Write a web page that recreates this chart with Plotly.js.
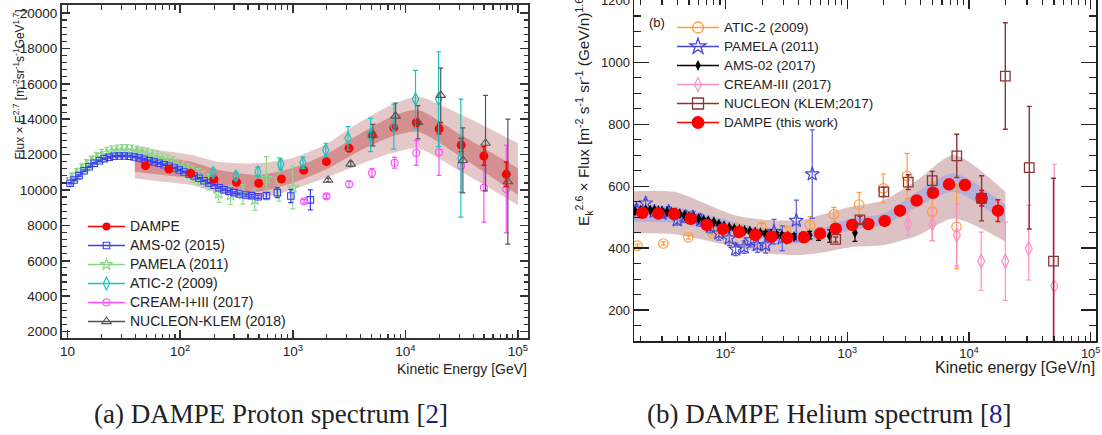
<!DOCTYPE html>
<html>
<head>
<meta charset="utf-8">
<script src="https://cdn.plot.ly/plotly-3.0.1.min.js"></script>
<style>
  html, body { margin: 0; padding: 0; background: #ffffff; }
  #chart { width: 1102px; height: 435px; }
</style>
</head>
<body>
<div id="chart"></div>
<script>
// ---------------- Panel (a): proton ----------------
const pDampeE   = [49.2, 79.2, 124, 199, 316, 498, 792, 1250, 1990, 3160, 5050, 7900, 12500, 19950, 31300, 49800, 78700];
const pDampeF   = [11375, 11187, 10943, 10605, 10435, 10380, 10620, 11110, 11600, 12355, 13110, 13520, 13800, 13450, 12540, 11920, 10885];
const pDampeErr = [40, 40, 40, 40, 40, 50, 60, 70, 80, 100, 120, 150, 200, 280, 380, 520, 690];

const pBandE    = [39.5, 63.7, 126, 217, 492, 974, 1920, 3800, 7500, 12900, 29500, 99800];
const pOuterHi  = [12447, 12260, 11977, 11600, 11510, 11790, 12540, 13770, 14800, 15270, 14330, 12640];
const pOuterLo  = [10660, 10500, 10280, 9850, 9530, 10000, 10660, 11410, 12070, 12355, 11130, 9150];
const pInnerHi  = [11977, 11850, 11600, 11150, 10850, 11226, 11977, 13110, 14140, 14520, 13200, 11226];
const pInnerLo  = [11034, 10880, 10660, 10200, 9906, 10380, 11130, 12165, 13010, 13290, 11977, 9718];

const pAmsE   = [10.5, 11.4, 12.6, 14.0, 15.5, 17.2, 19.1, 21.1, 23.4, 25.9, 28.7, 31.8, 35.2, 39, 43.2, 47.9, 53, 58.7, 65, 72, 79.8, 88.4, 97.9, 108, 120, 133, 147, 163, 180, 200, 221, 245, 271, 300, 333, 383, 430, 492, 583, 728, 961, 1432];
const pAmsF   = [10379, 10565, 10810, 11090, 11316, 11508, 11655, 11770, 11846, 11903, 11921, 11921, 11903, 11865, 11808, 11733, 11655, 11582, 11508, 11430, 11340, 11243, 11130, 11017, 10904, 10791, 10660, 10525, 10395, 10265, 10130, 10017, 9926, 9850, 9774, 9718, 9680, 9620, 9680, 9850, 9660, 9440];
const pAmsErr = [40, 40, 40, 40, 40, 40, 40, 40, 40, 40, 40, 40, 40, 40, 40, 40, 40, 40, 40, 40, 40, 40, 40, 40, 40, 40, 40, 40, 40, 40, 45, 45, 50, 50, 55, 60, 70, 90, 170, 280, 375, 565];

const pPamE   = [10.8, 11.9, 13.2, 14.6, 16.2, 18, 20, 22.2, 24.6, 27.3, 30.3, 33.6, 37.3, 41.4, 46, 51, 56.6, 62.8, 69.7, 77.4, 86, 95.4, 106, 117, 130, 145, 160, 178, 220, 280, 360, 460, 583, 751, 1000];
const pPamF   = [10600, 10850, 11120, 11370, 11580, 11780, 11940, 12060, 12140, 12190, 12210, 12210, 12180, 12130, 12060, 11970, 11880, 11780, 11680, 11580, 11470, 11340, 11210, 11060, 10900, 10760, 10600, 10450, 9800, 9700, 9750, 9450, 10660, 10600, 10130];
const pPamErr = [350, 350, 350, 350, 350, 350, 350, 350, 350, 350, 350, 350, 350, 350, 350, 400, 400, 400, 400, 400, 400, 400, 400, 400, 450, 450, 450, 450, 500, 520, 550, 600, 1225, 1225, 1200];

const pAticE   = [196, 312, 490, 782, 1230, 1960, 3090, 4910, 7900, 12300, 19700, 31100];
const pAticF   = [10980, 10790, 11030, 11450, 11540, 12260, 12920, 13110, 13580, 15130, 15130, 11800];
const pAticErr = [200, 200, 250, 300, 320, 380, 660, 940, 1270, 1630, 2680, 3330];

const pCreamE   = [1260, 1990, 3160, 5050, 8020, 12500, 19900, 31300, 49800, 78700];
const pCreamF   = [9360, 9640, 10320, 10960, 11540, 12090, 12130, 11375, 10130, 10056];
const pCreamErr = [100, 120, 180, 250, 300, 700, 1300, 1500, 1950, 2480];

const pNucE   = [2060, 3270, 5150, 8180, 12900, 20600, 32400, 51500, 81300];
const pNucF   = [10560, 11470, 13100, 14180, 13825, 15350, 11670, 12650, 10470];
const pNucErr = [100, 150, 610, 735, 940, 1530, 1836, 2700, 3530];

const pXTickVals = [10, 100, 1000, 10000, 100000];
const pXTickText = ['10', '10<sup>2</sup>', '10<sup>3</sup>', '10<sup>4</sup>', '10<sup>5</sup>'];

// ---------------- Panel (b): helium ----------------
const hDampeE   = [20.7, 28, 37.8, 51.6, 70, 95, 129, 175, 238, 321, 440, 597, 803, 1099, 1489, 2030, 2710, 3715, 5060, 6860, 9270, 12700, 17300];
const hDampeF   = [514, 512, 510, 495, 475, 462, 452, 443, 437, 433, 435, 447, 463, 475, 478, 488, 521, 554, 579, 606, 604, 561, 521];
const hDampeErr = [2, 2, 2, 2, 2, 2, 2, 2, 2, 3, 3, 3, 4, 4, 5, 6, 7, 9, 11, 13, 15, 25, 35];

const hBandE   = [17.7, 37.7, 117, 220, 414, 604, 1066, 1995, 3760, 7530, 19900];
const hOuterHi = [584, 582, 507, 491, 491, 507, 534, 555, 620, 701, 582];
const hOuterLo = [448, 445, 405, 383, 378, 385, 403, 410, 440, 496, 421];
const hInnerHi = [539, 534, 485, 458, 450, 464, 496, 512, 582, 642, 540];
const hInnerLo = [485, 482, 453, 426, 415, 432, 458, 475, 534, 582, 480];

const hAmsE   = [18, 20, 22, 24, 26, 28, 30, 33, 36, 39, 42, 46, 50, 55, 60, 66, 72, 80, 88, 97, 107, 118, 130, 143, 158, 175, 193, 213, 236, 262, 290, 325, 365, 420, 491, 580, 716, 1156];
const hAmsF   = [520, 522, 524, 523, 522, 521, 520, 518, 516, 514, 511, 506, 502, 499, 495, 491, 488, 485, 478, 472, 467, 463, 460, 457, 455, 452, 449, 447, 445, 443, 441, 439, 437, 438, 442, 440, 439, 450];
const hAmsErr = [4, 4, 4, 4, 4, 4, 4, 4, 4, 4, 4, 4, 4, 4, 4, 4, 4, 4, 5, 5, 5, 5, 5, 6, 6, 6, 6, 7, 7, 7, 8, 8, 9, 10, 12, 15, 20, 28];

const hPamE   = [18.5, 22, 26, 30, 34, 40, 47, 54, 62, 75, 88, 107, 121, 142, 161, 182, 213, 250, 292, 381, 515];
const hPamF   = [525, 545, 518, 512, 518, 491, 501, 500, 490, 470, 448, 432, 396, 403, 426, 410, 410, 453, 432, 489, 639];
const hPamErr = [15, 13, 14, 15, 16, 17, 18, 19, 20, 21, 22, 24, 20, 20, 22, 24, 26, 40, 40, 66, 143];

const hAticE   = [18.8, 30.8, 49.4, 77.7, 123, 198, 314, 494, 776, 1252, 1977, 3100, 4990, 7900];
const hAticF   = [408, 415, 435, 448, 466, 469, 456, 475, 509, 541, 593, 633, 518, 469];
const hAticErr = [5, 5, 6, 7, 8, 10, 12, 27, 23, 39, 46, 73, 94, 135];

const hCreamE    = [3150, 5000, 7940, 12600, 19900, 31000, 50200];
const hCreamF    = [478, 478, 442, 358, 358, 399, 278];
const hCreamErrP = [38, 54, 100, 94, 127, 140, 393];
const hCreamErrM = [38, 54, 100, 94, 127, 102, 178];

const hNucE   = [803, 1271, 1998, 3170, 4990, 7940, 12700, 19900, 31300, 49500];
const hNucF   = [428, 491, 582, 613, 618, 698, 561, 956, 660, 358];
const hNucErr = [8, 12, 15, 24, 30, 70, 73, 172, 198, 268];

const hXTickVals = [100, 1000, 10000, 100000];
const hXTickText = ['10<sup>2</sup>', '10<sup>3</sup>', '10<sup>4</sup>', '10<sup>5</sup>'];

// ---------------- helpers ----------------
const FONT = 'Liberation Sans, Arial, sans-serif';
const W = 1102, H = 435;
const px = v => v / W;
const py = v => 1 - v / H;

function pts(x, y, err, ax, style) {
  return {
    type: 'scatter', mode: 'markers', x: x, y: y, xaxis: ax[0], yaxis: ax[1],
    showlegend: false, hoverinfo: 'skip',
    marker: style.marker,
    error_y: { type: 'data', array: err, arrayminus: style.errM, symmetric: !style.errM,
               color: style.ecolor, thickness: style.eth || 1.2, width: style.ew || 2.5 }
  };
}
function band(x, lo, hi, ax, color) {
  return [
    { type: 'scatter', mode: 'lines', x: x, y: lo, xaxis: ax[0], yaxis: ax[1], line: { width: 0, shape: 'spline', smoothing: 0.7 }, showlegend: false, hoverinfo: 'skip' },
    { type: 'scatter', mode: 'lines', x: x, y: hi, xaxis: ax[0], yaxis: ax[1], line: { width: 0, shape: 'spline', smoothing: 0.7 }, fill: 'tonexty', fillcolor: color, showlegend: false, hoverinfo: 'skip' }
  ];
}
function leg(name, ax, legend, color, marker, fs) {
  return { type: 'scatter', mode: 'lines+markers', x: [null], y: [null], xaxis: ax[0], yaxis: ax[1],
           name: '<span style="font-size:' + fs + 'px">' + name + '</span>', legend: legend,
           line: { color: color, width: 1.3 }, marker: marker, hoverinfo: 'skip' };
}

const A = ['x', 'y'], B = ['x2', 'y2'];

// styles panel a
const sDampeA = { marker: { symbol: 'circle', size: 9, color: '#ff0000' }, ecolor: '#ff0000', eth: 1.5 };
const sAmsA   = { marker: { symbol: 'square-open', size: 6.5, color: '#3a3aff', line: { width: 1.1 } }, ecolor: '#3a3aff' };
const sPamA   = { marker: { symbol: 'star-open', size: 8.5, color: '#86d686', line: { width: 1.1 } }, ecolor: '#8fdc8f' };
const sAticA  = { marker: { symbol: 'diamond-tall-open', size: 9, color: '#19c3c3', line: { width: 1.2 } }, ecolor: '#19c3c3' };
const sCreamA = { marker: { symbol: 'circle-open', size: 7, color: '#ff4dff', line: { width: 1.1 } }, ecolor: '#ff4dff' };
const sNucA   = { marker: { symbol: 'triangle-up-open', size: 8.5, color: '#555555', line: { width: 1.1 } }, ecolor: '#555555' };

// styles panel b
const sAticB  = { marker: { symbol: 'circle-open', size: 9.5, color: '#ff9c3a', line: { width: 1.2 } }, ecolor: '#ff9c3a' };
const sPamB   = { marker: { symbol: 'star-open', size: 10.5, color: '#4646d6', line: { width: 1.2 } }, ecolor: '#5a5adc' };
const sAmsB   = { marker: { symbol: 'diamond-tall', size: 8, color: '#000000' }, ecolor: '#000000' };
const sCreamB = { marker: { symbol: 'diamond-tall-open', size: 10, color: '#ff8ec6', line: { width: 1.2 } }, ecolor: '#ff8ec6', errM: hCreamErrM };
const sNucB   = { marker: { symbol: 'square-open', size: 9.5, color: '#8a3535', line: { width: 1.3 } }, ecolor: '#8a3535', eth: 1.4 };
const sDampeB = { marker: { symbol: 'circle', size: 12.5, color: '#ff0000' }, ecolor: '#ff0000', eth: 1.5 };

const data = []
  .concat(band(pBandE, pOuterLo, pOuterHi, A, '#e5c8c8'))
  .concat(band(pBandE, pInnerLo, pInnerHi, A, '#d49090'))
  .concat([
    pts(pPamE, pPamF, pPamErr, A, sPamA),
    pts(pAmsE, pAmsF, pAmsErr, A, sAmsA),
    pts(pCreamE, pCreamF, pCreamErr, A, sCreamA),
    pts(pDampeE, pDampeF, pDampeErr, A, sDampeA),
    pts(pAticE, pAticF, pAticErr, A, sAticA),
    pts(pNucE, pNucF, pNucErr, A, sNucA)
  ])
  .concat(band(hBandE, hOuterLo, hOuterHi, B, '#dcc2c2'))
  .concat(band(hBandE, hInnerLo, hInnerHi, B, '#b6b0d8'))
  .concat([
    pts(hAticE, hAticF, hAticErr, B, sAticB),
    pts(hCreamE, hCreamF, hCreamErrP, B, sCreamB),
    pts(hPamE, hPamF, hPamErr, B, sPamB),
    pts(hAmsE, hAmsF, hAmsErr, B, sAmsB),
    pts(hDampeE, hDampeF, hDampeErr, B, sDampeB),
    pts(hNucE, hNucF, hNucErr, B, sNucB)
  ])
  .concat([
    leg('DAMPE', A, 'legend', '#ff0000', { symbol: 'circle', size: 8, color: '#ff0000' }, 14),
    leg('AMS-02 (2015)', A, 'legend', '#3a3aff', sAmsA.marker, 14),
    leg('PAMELA (2011)', A, 'legend', '#86d686', sPamA.marker, 14),
    leg('ATIC-2 (2009)', A, 'legend', '#19c3c3', sAticA.marker, 14),
    leg('CREAM-I+III (2017)', A, 'legend', '#ff4dff', sCreamA.marker, 14),
    leg('NUCLEON-KLEM (2018)', A, 'legend', '#555555', sNucA.marker, 14),
    leg('ATIC-2 (2009)', B, 'legend2', '#ff9c3a', { symbol: 'circle-open', size: 11, color: '#ff9c3a', line: { width: 1.3 } }, 13.5),
    leg('PAMELA (2011)', B, 'legend2', '#4646d6', { symbol: 'star-open', size: 12, color: '#4646d6', line: { width: 1.3 } }, 13.5),
    leg('AMS-02 (2017)', B, 'legend2', '#000000', sAmsB.marker, 13.5),
    leg('CREAM-III (2017)', B, 'legend2', '#ff8ec6', sCreamB.marker, 13.5),
    leg('NUCLEON (KLEM;2017)', B, 'legend2', '#8a3535', { symbol: 'square-open', size: 11, color: '#8a3535', line: { width: 1.3 } }, 13.5),
    leg('DAMPE (this work)', B, 'legend2', '#ff0000', { symbol: 'circle', size: 13, color: '#ff0000' }, 13.5)
  ]);

function axis(extra) {
  return Object.assign({
    showline: true, mirror: 'ticks', ticks: 'inside', showgrid: false, zeroline: false,
    linecolor: '#333', tickcolor: '#333', fixedrange: true
  }, extra);
}

const layout = {
  width: W, height: H,
  margin: { l: 0, r: 0, t: 0, b: 0 },
  paper_bgcolor: '#ffffff', plot_bgcolor: '#ffffff',
  font: { family: FONT, color: '#222' },
  xaxis: axis({ type: 'log', range: [0.95, 5.089], domain: [px(62), px(528)], anchor: 'y',
    linewidth: 2, ticklen: 8, tickwidth: 1.5,
    tickmode: 'array', tickvals: pXTickVals, ticktext: pXTickText,
    tickfont: { family: FONT, size: 13.5, color: '#222' },
    minor: { dtick: 'D1', ticks: 'inside', ticklen: 4.5, tickcolor: '#333', tickwidth: 1.2, showgrid: false } }),
  yaxis: axis({ range: [1640, 20450], domain: [py(338), py(5)], anchor: 'x',
    linewidth: 2, ticklen: 8, tickwidth: 1.5, tick0: 0, dtick: 2000, tickformat: 'd',
    tickfont: { family: FONT, size: 13.5, color: '#222' },
    minor: { dtick: 400, ticks: 'inside', ticklen: 4.5, tickcolor: '#333', tickwidth: 1.2, showgrid: false } }),
  xaxis2: axis({ type: 'log', range: [1.247, 5.044], domain: [px(634), px(1096)], anchor: 'y2',
    linewidth: 1.5, ticklen: 9, tickwidth: 1.3, linecolor: '#222', tickcolor: '#222',
    tickmode: 'array', tickvals: hXTickVals, ticktext: hXTickText,
    tickfont: { family: FONT, size: 13, color: '#222' },
    minor: { dtick: 'D1', ticks: 'inside', ticklen: 5, tickcolor: '#222', tickwidth: 1.1, showgrid: false } }),
  yaxis2: axis({ range: [100, 1201], domain: [py(341), py(0.2)], anchor: 'x2',
    linewidth: 1.5, ticklen: 15, tickwidth: 1.3, linecolor: '#222', tickcolor: '#222', tick0: 0, dtick: 200,
    ticklabeloverflow: 'allow',
    tickfont: { family: FONT, size: 13, color: '#222' },
    minor: { dtick: 50, ticks: 'inside', ticklen: 7, tickcolor: '#222', tickwidth: 1.1, showgrid: false } }),
  legend: { x: px(83), xanchor: 'left', y: py(212), yanchor: 'top', bgcolor: 'rgba(0,0,0,0)',
    font: { family: FONT, size: 11.5, color: '#222' }, itemwidth: 37, tracegroupgap: 0, traceorder: 'normal' },
  legend2: { x: px(672), xanchor: 'left', y: py(13), yanchor: 'top', bgcolor: 'rgba(0,0,0,0)',
    font: { family: FONT, size: 11.5, color: '#222' }, itemwidth: 42, tracegroupgap: 0, traceorder: 'normal' },
  showlegend: true,
  annotations: [
    { xref: 'paper', yref: 'paper', x: px(18.5), y: py(85), xanchor: 'center', yanchor: 'middle', textangle: -90, showarrow: false,
      text: 'Flux × E<sup>2.7</sup> [m<sup>-2</sup>sr<sup>-1</sup>s<sup>-1</sup>GeV<sup>1.7</sup>]', font: { family: FONT, size: 12, color: '#222' } },
    { xref: 'paper', yref: 'paper', x: px(529), y: py(369), xanchor: 'right', yanchor: 'middle', showarrow: false,
      text: 'Kinetic Energy [GeV]', font: { family: FONT, size: 14, color: '#222' } },
    { xref: 'paper', yref: 'paper', x: px(584), y: py(110), xanchor: 'center', yanchor: 'middle', textangle: -90, showarrow: false,
      text: 'E<sub>k</sub><sup>2.6</sup> × Flux [m<sup>-2</sup> s<sup>-1</sup> sr<sup>-1</sup> (GeV/n)<sup>1.6</sup>]', font: { family: FONT, size: 15.3, color: '#222' } },
    { xref: 'paper', yref: 'paper', x: px(1097), y: py(367), xanchor: 'right', yanchor: 'middle', showarrow: false,
      text: 'Kinetic energy [GeV/n]', font: { family: FONT, size: 16, color: '#222' } },
    { xref: 'paper', yref: 'paper', x: px(657), y: py(22.7), xanchor: 'center', yanchor: 'middle', showarrow: false,
      text: '(b)', font: { family: FONT, size: 13, color: '#222' } },
    { xref: 'paper', yref: 'paper', x: px(271), y: py(413.5), xanchor: 'center', yanchor: 'middle', showarrow: false,
      text: '(a) DAMPE Proton spectrum [<span style="color:#1c1c8c">2</span>]', font: { family: 'Liberation Serif, serif', size: 27, color: '#222' } },
    { xref: 'paper', yref: 'paper', x: px(829), y: py(413.5), xanchor: 'center', yanchor: 'middle', showarrow: false,
      text: '(b) DAMPE Helium spectrum [<span style="color:#1c1c8c">8</span>]', font: { family: 'Liberation Serif, serif', size: 27, color: '#222' } }
  ]
};

Plotly.newPlot('chart', data, layout, { staticPlot: true, displayModeBar: false });
</script>
</body>
</html>
